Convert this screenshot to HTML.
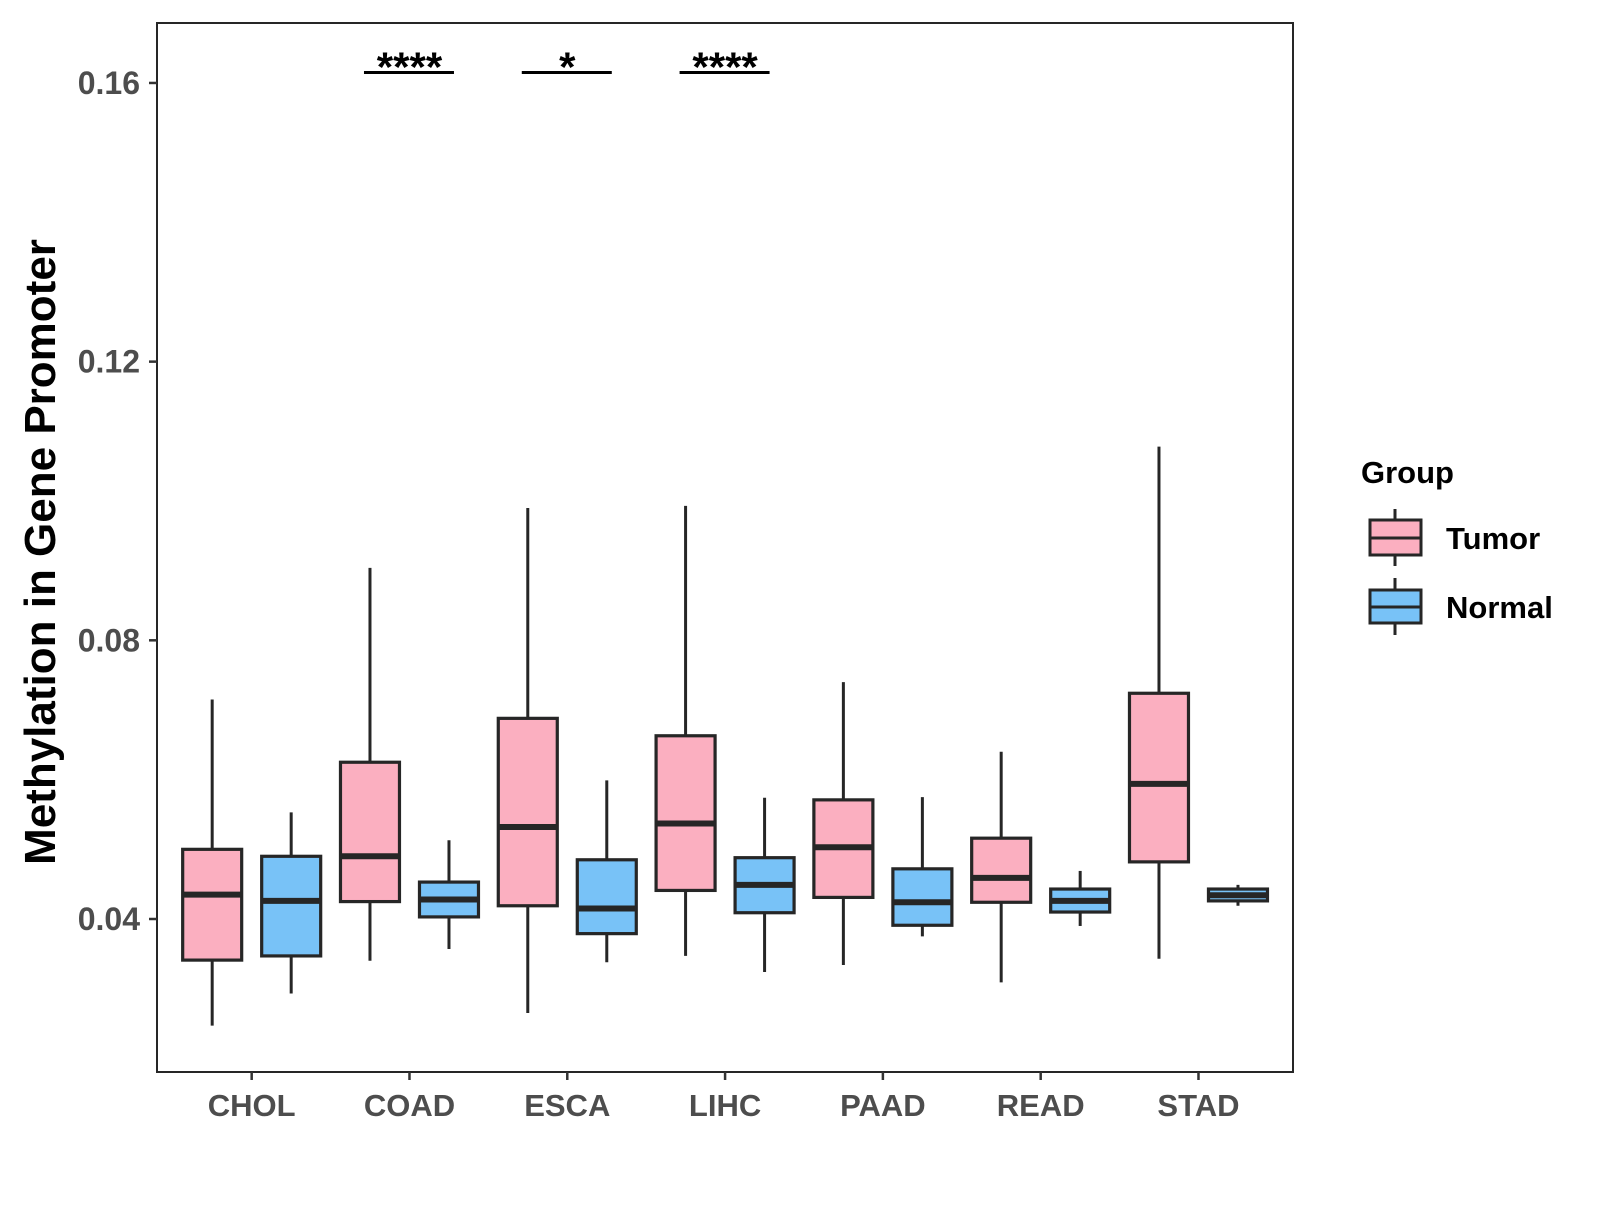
<!DOCTYPE html>
<html><head><meta charset="utf-8"><style>
html,body{margin:0;padding:0;background:#fff;}
svg text{font-family:"Liberation Sans",Arial,sans-serif;font-weight:bold;}
</style></head><body>
<svg id="chart" width="1600" height="1200" xmlns="http://www.w3.org/2000/svg">
<rect x="157" y="23" width="1136" height="1049" fill="#fff" stroke="#262626" stroke-width="2"/>
<g id="marks"></g>
<g id="axes"></g>
<text x="0" y="0" transform="translate(55,552) rotate(-90)" text-anchor="middle" font-size="44" fill="#000">Methylation in Gene Promoter</text>
<g transform="translate(-6,0)">
<text x="1367" y="483" font-size="31" fill="#000">Group</text>
<g>
<line x1="1401" y1="509" x2="1401" y2="566" stroke="#262626" stroke-width="3"/>
<rect x="1376" y="520" width="51" height="35" fill="#FBAFC0" stroke="#262626" stroke-width="3"/>
<line x1="1376" y1="538" x2="1427" y2="538" stroke="#262626" stroke-width="3"/>
<text x="1452" y="549" font-size="31" fill="#000">Tumor</text>
</g>
<g>
<line x1="1401" y1="578" x2="1401" y2="635" stroke="#262626" stroke-width="3"/>
<rect x="1376" y="590" width="51" height="33" fill="#78C2F7" stroke="#262626" stroke-width="3"/>
<line x1="1376" y1="607" x2="1427" y2="607" stroke="#262626" stroke-width="3"/>
<text x="1452" y="618" font-size="31" fill="#000">Normal</text>
</g>
</g>
</svg>
<script>
const categories = ["CHOL","COAD","ESCA","LIHC","PAAD","READ","STAD"];
// [lowWhisker, Q1, median, Q3, highWhisker]
const tumorStats = [
 [0.0247,0.0341,0.0435,0.0500,0.0715],
 [0.0340,0.0425,0.0490,0.0625,0.0904],
 [0.0265,0.0419,0.0532,0.0688,0.0990],
 [0.0347,0.0441,0.0537,0.0663,0.0993],
 [0.0334,0.0431,0.0503,0.0571,0.0740],
 [0.0309,0.0424,0.0459,0.0516,0.0640],
 [0.0343,0.0482,0.0594,0.0724,0.1078]
];
const normalStats = [
 [0.0293,0.0347,0.0426,0.0490,0.0553],
 [0.0357,0.0403,0.0428,0.0453,0.0513],
 [0.0338,0.0379,0.0415,0.0485,0.0599],
 [0.0324,0.0409,0.0449,0.0488,0.0574],
 [0.0375,0.0391,0.0424,0.0472,0.0575],
 [0.0390,0.0410,0.0426,0.0443,0.0469],
 [0.0419,0.0426,0.0434,0.0443,0.0449]
];
const yTicks = [0.04,0.08,0.12,0.16];
const yTickLabels = ["0.04","0.08","0.12","0.16"];
const sigCategories = ["COAD","ESCA","LIHC"];
const sigLabels = ["****","*","****"];
const sigLevel = 0.1615;

const NS="http://www.w3.org/2000/svg";
const yScale = v => 919 - (v-0.04)*6967;
const xScale = i => 157 + (0.6 + i)*157.8;
const boxW = 59, dodge = 39.5;
function mk(tag, attrs, parent){const e=document.createElementNS(NS,tag);for(const k in attrs)e.setAttribute(k,attrs[k]);parent.appendChild(e);return e;}
const marks=document.getElementById('marks');
const axes=document.getElementById('axes');

function drawBox(s, cx, fill, name){
  const g=mk('g',{},marks);
  
  
  mk('line',{x1:cx,x2:cx,y1:yScale(s[4]),y2:yScale(s[0]),stroke:'#262626','stroke-width':3},g);
  const top=yScale(s[3]), bot=yScale(s[1]);
  mk('rect',{x:cx-boxW/2,y:top,width:boxW,height:Math.max(bot-top,1),fill:fill,stroke:'#262626','stroke-width':3.2},g);
  mk('line',{x1:cx-boxW/2,x2:cx+boxW/2,y1:yScale(s[2]),y2:yScale(s[2]),stroke:'#262626','stroke-width':6},g);
}
categories.forEach((c,i)=>{
  drawBox(tumorStats[i], xScale(i)-dodge, '#FBAFC0', 'box-tumor-'+c.toLowerCase());
  drawBox(normalStats[i], xScale(i)+dodge, '#78C2F7', 'box-normal-'+c.toLowerCase());
  mk('line',{x1:xScale(i),x2:xScale(i),y1:1072,y2:1080,stroke:'#333','stroke-width':2.5},axes);
  const t=mk('text',{x:xScale(i),y:1116,'text-anchor':'middle','font-size':31,fill:'#4d4d4d'},axes);
  t.textContent=c;
  
  
});
yTicks.forEach((v,i)=>{
  mk('line',{x1:149,x2:157,y1:yScale(v),y2:yScale(v),stroke:'#333','stroke-width':2.5},axes);
  const t=mk('text',{x:140,y:yScale(v)+11,'text-anchor':'end','font-size':32,fill:'#4d4d4d'},axes);
  t.textContent=yTickLabels[i];
  
  
});
sigCategories.forEach((c,k)=>{
  const i=categories.indexOf(c);
  const y=yScale(sigLevel);
  const l=mk('line',{x1:xScale(i)-dodge-6,x2:xScale(i)+dodge+5,y1:y,y2:y,stroke:'#000','stroke-width':3},marks);
  
  
  const t=mk('text',{x:xScale(i),y:y+9,'text-anchor':'middle','font-size':42,fill:'#000'},marks);
  t.textContent=sigLabels[k];
  
  
});
</script>
</body></html>
